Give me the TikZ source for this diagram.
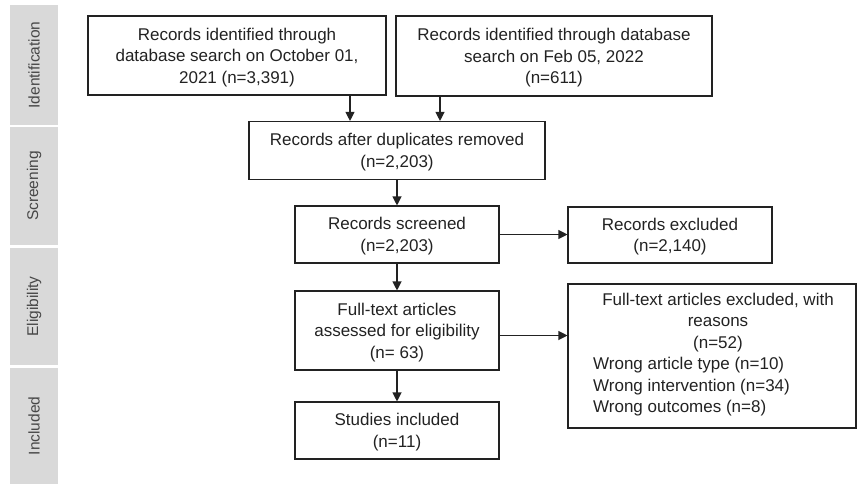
\documentclass[tikz,border=0pt]{standalone}
\usepackage{fontspec}
\setmainfont{Liberation Sans}
\usepackage{xcolor}
\usetikzlibrary{arrows.meta}

\definecolor{barfill}{HTML}{D9D9D9}
\definecolor{inkgray}{HTML}{222222}

\tikzset{
  box/.style={draw=inkgray, line width=1.1pt, align=center, inner sep=0pt,
    text depth=0pt, text=inkgray, font=\fontsize{17}{21.5}\selectfont},
  phase/.style={fill=barfill, rotate=90, minimum height=48pt, inner sep=0pt,
    text=black!72, font=\fontsize{15.5}{17}\selectfont},
  arr/.style={-{Triangle[length=9pt,width=9pt]}, line width=1.1pt, draw=inkgray}
}

\begin{document}
\begin{tikzpicture}[x=1pt,y=-1pt]
\useasboundingbox (0,0) rectangle (858,484);

\node[phase, minimum width=120pt] (ident) at (34,65) {Identification};
\node[phase, minimum width=118pt] (screen) at (34,186) {Screening};
\node[phase, minimum width=117pt] (elig) at (34,306.5) {Eligibility};
\node[phase, minimum width=116pt] (incl) at (34,426) {Included};

\node[box, minimum width=298pt, minimum height=79pt] (srchA) at (237,55.5)
  {Records identified through\\ database search on October 01,\\ 2021 (n=3,391)};
\node[box, minimum width=316pt, minimum height=80pt] (srchB) at (554,56)
  {Records identified through database\\ search on Feb 05, 2022\\ (n=611)};
\node[box, minimum width=296pt, minimum height=58pt] (dedup) at (397,150.5)
  {Records after duplicates removed\\ (n=2,203)};
\node[box, minimum width=204pt, minimum height=57pt] (scrnd) at (397,234.5)
  {Records screened\\ (n=2,203)};
\node[box, minimum width=204pt, minimum height=56pt] (excl) at (670,235)
  {Records excluded\\ (n=2,140)};
\node[box, minimum width=204pt, minimum height=79pt] (fulltxt) at (397,330.5)
  {Full-text articles\\ assessed for eligibility\\ (n= 63)};
\node[box, text depth={}, minimum width=288pt, minimum height=144pt] (reasons) at (712,356)
  {\hspace*{12pt}Full-text articles excluded, with\\ \hspace*{12pt}reasons\\ \hspace*{12pt}(n=52)\\
   \begin{tabular}[t]{@{}l@{}}Wrong article type (n=10)\\ Wrong intervention (n=34)\\ Wrong outcomes (n=8)\end{tabular}\hspace*{41pt}};
\node[box, minimum width=204pt, minimum height=57pt] (incld) at (397,430.5)
  {Studies included\\ (n=11)};

\draw[arr] ([xshift=113pt]srchA.south) -- ([xshift=113pt]srchA.south |- dedup.north);
\draw[arr] ([xshift=-114pt]srchB.south) -- ([xshift=-114pt]srchB.south |- dedup.north);
\draw[arr] (dedup.south) -- (scrnd.north);
\draw[arr] (scrnd.east) -- (scrnd.east -| excl.west);
\draw[arr] (scrnd.south) -- (fulltxt.north);
\draw[arr] ([yshift=-5pt]fulltxt.east) -- ([yshift=-5pt]fulltxt.east -| reasons.west);
\draw[arr] (fulltxt.south) -- (incld.north);
\end{tikzpicture}
\end{document}
